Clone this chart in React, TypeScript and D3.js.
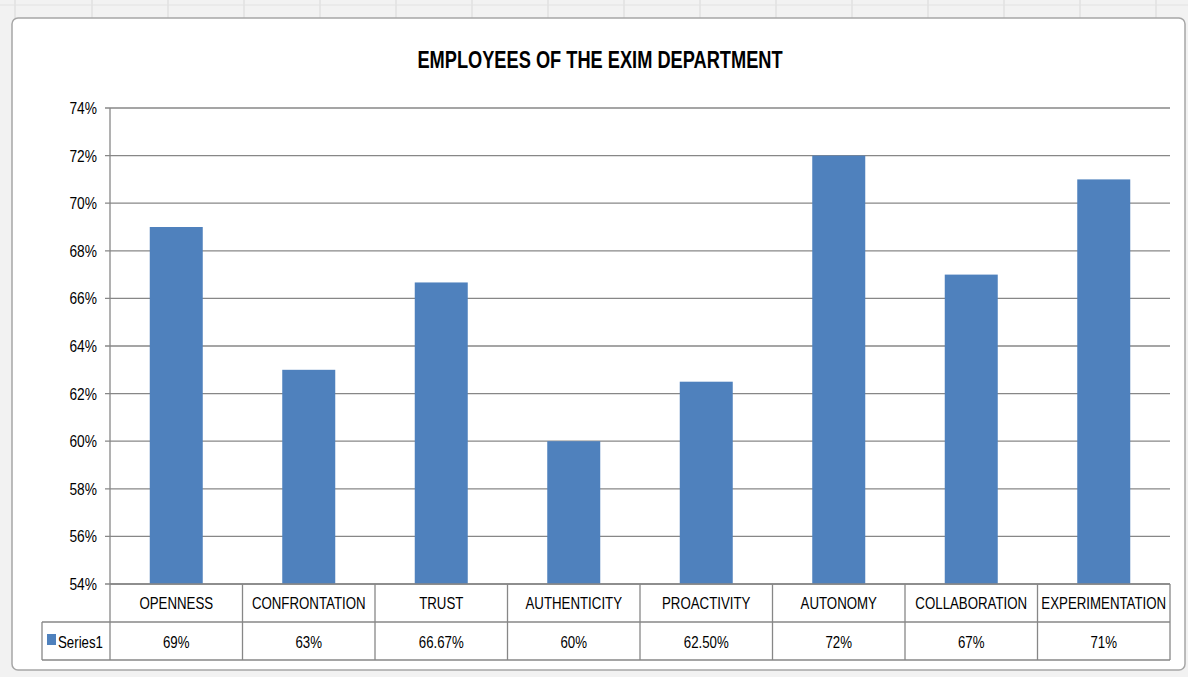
import React from "react";
import * as d3 from "d3";

const categories = ["OPENNESS", "CONFRONTATION", "TRUST", "AUTHENTICITY", "PROACTIVITY", "AUTONOMY", "COLLABORATION", "EXPERIMENTATION"];
const values = [69, 63, 66.67, 60, 62.5, 72, 67, 71];
const valueLabels = ["69%", "63%", "66.67%", "60%", "62.50%", "72%", "67%", "71%"];
const yTicks = [54, 56, 58, 60, 62, 64, 66, 68, 70, 72, 74];
const seriesName = "Series1";
const title = "EMPLOYEES OF THE EXIM DEPARTMENT";

const W = 1188, H = 677;
const left = 110, right = 1170, top = 108, bottom = 584;
const row1 = 622, row2 = 660;
const font = "'Liberation Sans', Arial, sans-serif";

function NText(props: { x: number; y: number; anchor?: string; size?: number; sx?: number; bold?: boolean; children: React.ReactNode }) {
  const { x, y, anchor = "middle", size = 16, sx = 0.83, bold = false, children } = props;
  return (
    <text
      transform={`translate(${x},${y}) scale(${sx},1)`}
      textAnchor={anchor as any}
      fontFamily={font}
      fontSize={size}
      fontWeight={bold ? "bold" : "normal"}
      fill="#000"
    >
      {children}
    </text>
  );
}

export default function App() {
  const x = d3.scaleBand<string>().domain(categories).range([left, right]).paddingInner(0).paddingOuter(0);
  const y = d3.scaleLinear().domain([54, 74]).range([bottom, top]);
  const bw = x.bandwidth();
  const barW = bw * 0.4;
  const sheetCols = [15, 92, 168, 244, 320, 396, 472, 548, 624, 700, 776, 852, 928, 1004, 1080, 1156];
  return (
    <svg width={W} height={H} style={{ position: "absolute", left: 0, top: 0, background: "#f0f0f0" }}>
      <rect x={0} y={0} width={W} height={H} fill="#f2f2f2" />
      {sheetCols.map((c, i) => (
        <line key={i} x1={c} x2={c} y1={0} y2={18} stroke="#d8d8d8" />
      ))}
      <line x1={0} x2={W} y1={5} y2={5} stroke="#e2e2e2" />
      <rect x={12} y={18} width={1173} height={652} rx={6} ry={6} fill="#ffffff" stroke="#a6a6a6" strokeWidth={1.5} />
      <NText x={600} y={68} size={24} sx={0.76} bold>
        {title}
      </NText>
      {yTicks.map((t) => (
        <g key={t}>
          <line x1={left - 5} x2={right} y1={y(t)} y2={y(t)} stroke="#878787" strokeWidth={1.3} />
          <NText x={left - 13} y={y(t) + 6} anchor="end" size={16} sx={0.86}>
            {t}%
          </NText>
        </g>
      ))}
      {categories.map((c, i) => (
        <rect key={c} x={(x(c) as number) + (bw - barW) / 2} y={y(values[i])} width={barW} height={bottom - y(values[i])} fill="#4f81bd" />
      ))}
      <line x1={left} x2={left} y1={top} y2={row2} stroke="#878787" strokeWidth={1.3} />
      <line x1={left} x2={right} y1={bottom} y2={bottom} stroke="#878787" strokeWidth={1.3} />
      <line x1={42} x2={right} y1={row1} y2={row1} stroke="#878787" strokeWidth={1.3} />
      <line x1={42} x2={right} y1={row2} y2={row2} stroke="#878787" strokeWidth={1.3} />
      <line x1={42} x2={42} y1={row1} y2={row2} stroke="#878787" strokeWidth={1.3} />
      {categories.map((c, i) => (
        <g key={c}>
          <line x1={(x(c) as number) + bw} x2={(x(c) as number) + bw} y1={bottom} y2={row2} stroke="#878787" strokeWidth={1.3} />
          <NText x={(x(c) as number) + bw / 2} y={bottom + 25}>
            {c}
          </NText>
          <NText x={(x(c) as number) + bw / 2} y={row1 + 26}>
            {valueLabels[i]}
          </NText>
        </g>
      ))}
      <rect x={47} y={634} width={9} height={11} fill="#4f81bd" />
      <NText x={58} y={row1 + 26} anchor="start">
        {seriesName}
      </NText>
    </svg>
  );
}
